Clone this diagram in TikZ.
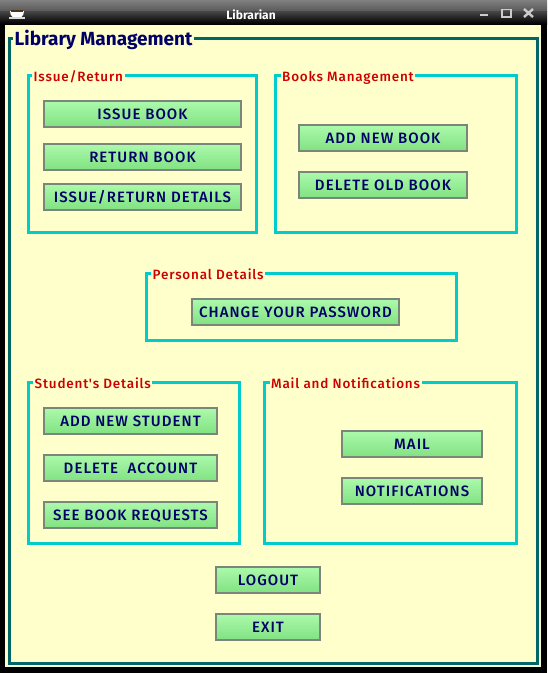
\documentclass[tikz,border=0pt]{standalone}
\usepackage{fontspec}
\setmainfont{Fira Sans}
\newfontfamily\btnfont[LetterSpace=7]{Fira Sans Medium}
\newfontfamily\legfont[LetterSpace=6]{Fira Sans Medium}
\definecolor{panel}{RGB}{255,255,204}
\definecolor{outerline}{RGB}{0,102,102}
\definecolor{groupline}{RGB}{0,204,204}
\definecolor{navy}{RGB}{0,0,102}
\definecolor{legendred}{RGB}{204,0,0}
\definecolor{btntop}{RGB}{172,250,172}
\definecolor{btnbot}{RGB}{130,226,130}
\definecolor{btnline}{RGB}{122,134,122}
\tikzset{
  btn/.style={draw=btnline,line width=2pt,top color=btntop,bottom color=btnbot,
    minimum height=26pt,inner sep=0pt,text height=11pt,text depth=0pt,text=navy,font=\btnfont\fontsize{15}{16}\selectfont},
  groupbox/.style={draw=groupline,line width=3pt},
  legendtext/.style={fill=panel,text=legendred,inner xsep=1.5pt,inner ysep=0pt,text height=11pt,text depth=3pt,anchor=base west,
    font=\legfont\fontsize{13.5}{15}\selectfont},
  winicon/.style={draw=white!80!black,line width=1.4pt}
}
\begin{document}
\begin{tikzpicture}[x=1pt,y=-1pt]
\useasboundingbox (0,0) rectangle (547,673);
\fill[black] (0,0) rectangle (547,673);
% title bar
\shade[top color=black!50,bottom color=black!65] (0,0) rectangle (547,11);
\shade[top color=black!72,bottom color=black] (0,11) rectangle (547,24);
\node[text=white,font=\fontsize{12}{14}\selectfont\bfseries] (wintitle) at (251,15) {Librarian};
% cup icon
\fill[white] (10,11) -- (24,11) .. controls (24,17) and (20,18) .. (17,18) .. controls (14,18) and (10,17) .. (10,11);
\fill[black!60!brown] (11,10) rectangle (23,12);
\fill[white!85!black] (9,17) rectangle (25,19);
% window buttons
\draw[winicon,line width=2pt] (480,15) -- (488,15);
\draw[winicon] (502,9.5) rectangle (511,17);
\draw[winicon,line width=2.4pt] (524,9) -- (533,17) (533,9) -- (524,17);
% panel
\fill[panel] (5,25) rectangle (541,667);
\draw[outerline,line width=3pt] (9,38.5) rectangle (537,663.5);
\node[fill=panel,text=navy,inner xsep=1.5pt,inner ysep=0pt,anchor=west,font=\fontsize{19}{21}\selectfont\bfseries] (maintitle) at (13,40) {Library Management};
% groups
\draw[groupbox] (28,75.5) rectangle (256.5,232.5);
\node[legendtext] (g1) at (32,81) {Issue/Return};
\draw[groupbox] (275.5,75.5) rectangle (516.5,232.5);
\node[legendtext] (g2) at (280.5,81) {Books Management};
\draw[groupbox] (146.5,273.5) rectangle (456.5,340.5);
\node[legendtext] (g3) at (151,279) {Personal Details};
\draw[groupbox] (28,382.5) rectangle (239.5,543.5);
\node[legendtext] (g4) at (33,388) {Student's Details};
\draw[groupbox] (264.5,382.5) rectangle (516.5,543.5);
\node[legendtext] (g5) at (269.5,388) {Mail and Notifications};
% buttons
\node[btn,minimum width=197pt] (b1) at (142.5,113.5) {ISSUE BOOK};
\node[btn,minimum width=197pt] (b2) at (142.5,156.5) {RETURN BOOK};
\node[btn,minimum width=197pt] (b3) at (142.5,196.5) {ISSUE/RETURN DETAILS};
\node[btn,minimum width=168pt] (b4) at (383,137.5) {ADD NEW BOOK};
\node[btn,minimum width=168pt] (b5) at (383,184.5) {DELETE OLD BOOK};
\node[btn,minimum width=207pt] (b6) at (295.5,311.5) {CHANGE YOUR PASSWORD};
\node[btn,minimum width=173pt] (b7) at (130.5,420.5) {ADD NEW STUDENT};
\node[btn,minimum width=173pt] (b8) at (130.5,467.5) {DELETE\ \ ACCOUNT};
\node[btn,minimum width=173pt] (b9) at (130.5,514.5) {SEE BOOK REQUESTS};
\node[btn,minimum width=140pt] (b10) at (412,443.5) {MAIL};
\node[btn,minimum width=140pt] (b11) at (412,490.5) {NOTIFICATIONS};
\node[btn,minimum width=104pt] (b12) at (268,579.5) {LOGOUT};
\node[btn,minimum width=104pt] (b13) at (268,626.5) {EXIT};
\end{tikzpicture}
\end{document}
